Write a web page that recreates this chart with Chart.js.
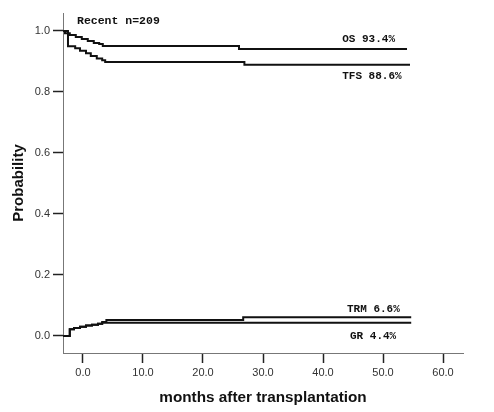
<!DOCTYPE html>
<html>
<head>
<meta charset="utf-8">
<script src="https://cdn.jsdelivr.net/npm/chart.js@4/dist/chart.umd.min.js"></script>
<style>
  html, body { margin: 0; padding: 0; background: #fff; }
  #wrap { width: 494px; height: 412px; }
</style>
</head>
<body>
<div id="wrap"><canvas id="kmChart" width="494" height="412"></canvas></div>
<script>
// Datos (meses, probabilidad)
const osTimes = [-3.3, -3.0, -2.2, -1.2, -0.2, 0.8, 1.8, 2.7, 3.3, 26.0, 54.0];
const osValues = [1.0, 0.993, 0.987, 0.980, 0.974, 0.967, 0.961, 0.957, 0.951, 0.941, 0.941];

const tfsTimes = [-3.3, -2.5, -1.3, -0.5, 0.5, 1.3, 2.3, 3.2, 3.7, 26.9, 54.5];
const tfsValues = [1.0, 0.950, 0.943, 0.935, 0.927, 0.918, 0.910, 0.904, 0.898, 0.889, 0.889];

const trmTimes = [-3.3, -2.2, -1.5, -0.5, 0.5, 1.5, 2.5, 3.2, 3.9, 26.7, 54.7];
const trmValues = [0, 0.022, 0.026, 0.030, 0.034, 0.037, 0.040, 0.046, 0.052, 0.061, 0.061];

const grTimes = [-3.3, -2.2, -1.5, -0.5, 0.5, 1.5, 2.5, 3.2, 54.7];
const grValues = [0, 0.022, 0.026, 0.030, 0.034, 0.037, 0.040, 0.043, 0.043];

const xTicks = [0, 10, 20, 30, 40, 50, 60];
const yTicks = [0, 0.2, 0.4, 0.6, 0.8, 1.0];

const curveLabels = ['OS 93.4%', 'TFS 88.6%', 'TRM 6.6%', 'GR 4.4%'];
const headerText = 'Recent n=209';

// Armar los puntos {x, y}
function toPoints(times, values) {
  return times.map((t, i) => ({ x: t, y: values[i] }));
}

function curve(times, values) {
  return {
    data: toPoints(times, values),
    showLine: true,
    stepped: true,
    borderColor: '#111',
    borderWidth: 2,
    pointRadius: 0,
    fill: false
  };
}

// Posiciones de los textos (en unidades de los ejes)
const labelSpots = [
  { x: 43.2, y: 0.974 },
  { x: 43.2, y: 0.852 },
  { x: 44.0, y: 0.0885 },
  { x: 44.5, y: 0.0 }
];

const textPlugin = {
  id: 'curveText',
  afterDatasetsDraw(chart) {
    const { ctx, scales } = chart;
    ctx.save();
    ctx.fillStyle = '#111';
    ctx.font = 'bold 11px "Liberation Mono", "DejaVu Sans Mono", monospace';
    ctx.textBaseline = 'middle';
    ctx.textAlign = 'left';
    curveLabels.forEach((txt, i) => {
      const p = labelSpots[i];
      ctx.fillText(txt, scales.x.getPixelForValue(p.x), scales.y.getPixelForValue(p.y));
    });
    ctx.font = 'bold 11.5px "Liberation Mono", "DejaVu Sans Mono", monospace';
    ctx.fillText(headerText, scales.x.getPixelForValue(-1.0), scales.y.getPixelForValue(1.033));
    ctx.restore();
  }
};

new Chart(document.getElementById('kmChart').getContext('2d'), {
  type: 'scatter',
  data: {
    datasets: [
      curve(osTimes, osValues),
      curve(tfsTimes, tfsValues),
      curve(trmTimes, trmValues),
      curve(grTimes, grValues)
    ]
  },
  options: {
    responsive: false,
    animation: false,
    layout: { padding: { top: 13, right: 31, left: 0, bottom: 0 } },
    plugins: {
      legend: { display: false },
      tooltip: { enabled: false }
    },
    scales: {
      x: {
        type: 'linear',
        min: -3.33,
        max: 63.33,
        afterBuildTicks: (s) => { s.ticks = xTicks.map(v => ({ value: v })); },
        afterFit: (s) => { s.height = 59; },
        border: { color: '#777', width: 1 },
        grid: { drawOnChartArea: false, tickLength: 10, color: '#222', tickWidth: 1.5 },
        ticks: {
          padding: 3,
          color: '#333',
          font: { family: '"Liberation Sans", Arial, sans-serif', size: 11 },
          callback: (v) => Number(v).toFixed(1),
          maxRotation: 0
        },
        title: {
          display: true,
          text: 'months after transplantation',
          color: '#111',
          font: { family: '"Liberation Sans", Arial, sans-serif', size: 15.3, weight: 'bold' },
          padding: { top: 0, bottom: 5 }
        }
      },
      y: {
        type: 'linear',
        min: -0.056,
        max: 1.059,
        afterBuildTicks: (s) => { s.ticks = yTicks.map(v => ({ value: v })); },
        afterFit: (s) => { s.width = 63; },
        border: { color: '#777', width: 1 },
        grid: { drawOnChartArea: false, tickLength: 10, color: '#222', tickWidth: 1.5 },
        ticks: {
          padding: 3,
          color: '#333',
          font: { family: '"Liberation Sans", Arial, sans-serif', size: 11 },
          callback: (v) => Number(v).toFixed(1)
        },
        title: {
          display: true,
          text: 'Probability',
          color: '#111',
          font: { family: '"Liberation Sans", Arial, sans-serif', size: 15, weight: 'bold' },
          padding: { top: 10, bottom: 0 }
        }
      }
    }
  },
  plugins: [textPlugin]
});
</script>
</body>
</html>
